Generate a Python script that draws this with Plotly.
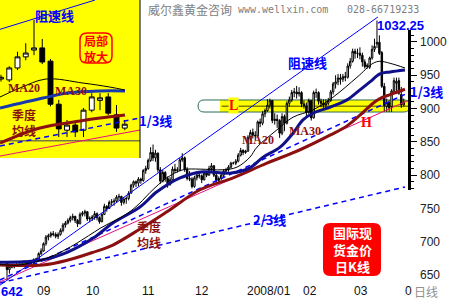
import plotly.graph_objects as go
import pandas as pd

# ---------------- data ----------------
dates = pd.bdate_range("2007-08-16", "2008-04-01")
date_labels = [d.strftime("%Y-%m-%d") for d in dates]

opens = ([668, 658, 663, 662, 665, 666, 664, 670, 668, 667, 666, 667] +
         [673, 674, 682, 686, 697, 707, 709, 712, 711, 708, 711, 717, 725, 728, 732, 736, 738, 732, 727, 741] +
         [743, 745, 734, 735, 737, 742, 736, 730, 741, 753, 750, 759, 760, 761, 767, 768, 759, 764, 765, 773, 785, 790, 788] +
         [794, 792, 807, 810, 822, 834, 826, 833, 808, 791, 804, 795, 786, 793, 809, 807, 808, 823, 826, 809, 795, 794] +
         [783, 796, 800, 799, 793, 803, 800, 810, 814, 800, 792, 795, 800, 806, 808, 812, 818, 818, 821, 830, 837] +
         [834, 836, 857, 864, 860, 859, 880, 878, 892, 897, 905, 912, 882, 884, 882, 863, 888, 878, 908, 913, 924, 925, 922] +
         [924, 907, 904, 894, 912, 886, 924, 924, 911, 908, 905, 908, 912, 925, 937, 940, 946, 944, 948, 947, 964] +
         [971, 986, 983, 983, 980, 970, 963, 962, 976, 989, 997, 999.5, 984, 933.5, 903, 909, 903, 926.5, 938, 942, 921, 905.5])
highs = ([670, 667, 667, 667, 668, 668, 671, 672, 670, 669, 670, 675] +
         [676, 684, 690, 699, 710, 712, 715, 716, 714, 714, 720, 728, 731, 735, 739, 742, 739, 734, 744, 746] +
         [748, 746, 738, 740, 746, 744, 738, 743, 757, 755, 762, 764, 765, 770, 772, 769, 767, 768, 776, 787, 792, 792, 797] +
         [796, 809, 814, 825, 842, 846, 838, 834, 812, 808, 806, 798, 797, 813, 817, 812, 826, 833, 828, 812, 806, 797] +
         [799, 803, 804, 801, 806, 806, 814, 818, 815, 802, 798, 803, 809, 811, 815, 820, 820, 824, 833, 841, 839] +
         [838, 860, 868, 870, 866, 882, 885, 896, 900, 914, 915, 913, 893, 891, 884, 893, 891, 911, 918, 928, 931, 934, 932] +
         [926, 912, 909, 915, 913, 927, 930, 926, 915, 914, 914, 916, 928, 940, 950, 952, 952, 952, 955, 968, 976] +
         [990, 990, 990, 992, 984, 974, 968, 978, 995, 1005, 1032.25, 1010, 986.5, 938.5, 915, 912.5, 929, 946.5, 946.5, 946.5, 932.5, 915])
lows = ([642, 652, 660, 660, 662, 662, 663, 667, 663, 664, 664, 666] +
        [671, 673, 680, 685, 694, 702, 706, 708, 705, 704, 709, 714, 721, 726, 729, 732, 728, 722, 726, 738] +
        [738, 731, 729, 731, 733, 732, 727, 729, 740, 745, 749, 754, 754, 758, 762, 754, 756, 757, 762, 772, 781, 782, 783] +
        [787, 790, 802, 808, 820, 821, 820, 804, 787, 789, 790, 781, 784, 791, 803, 804, 806, 820, 805, 792, 791, 780] +
        [781, 792, 795, 788, 792, 797, 799, 806, 797, 786, 788, 792, 797, 802, 805, 810, 816, 815, 819, 828, 830] +
        [832, 835, 853, 855, 852, 857, 872, 875, 887, 895, 900, 878, 876, 871, 856, 860, 866, 876, 903, 910, 917, 915, 918] +
        [902, 900, 888, 892, 882, 885, 916, 906, 902, 901, 900, 905, 910, 921, 930, 935, 936, 940, 941, 945, 960] +
        [969, 975, 976, 974, 963, 960, 960, 959.5, 973.5, 985, 991, 980.5, 931, 895, 895, 895, 895, 924, 926.5, 920.5, 901, 903])
closes = ([658, 663, 662, 665, 666, 664, 670, 668, 667, 666, 667, 673] +
          [674, 682, 686, 697, 707, 709, 712, 711, 708, 711, 717, 725, 728, 732, 736, 738, 732, 727, 741, 743] +
          [745, 734, 735, 737, 742, 736, 730, 741, 753, 750, 759, 760, 761, 767, 768, 759, 764, 765, 773, 785, 790, 788, 794] +
          [792, 807, 810, 822, 834, 826, 833, 808, 791, 804, 795, 786, 793, 809, 807, 808, 823, 826, 809, 795, 794, 783] +
          [796, 800, 799, 793, 803, 800, 810, 814, 800, 792, 795, 800, 806, 808, 812, 818, 818, 821, 830, 837, 834] +
          [836, 857, 864, 860, 859, 880, 878, 892, 897, 905, 912, 882, 884, 882, 863, 888, 878, 908, 913, 924, 925, 922, 924] +
          [907, 904, 894, 912, 886, 924, 924, 911, 908, 905, 908, 912, 925, 937, 940, 946, 944, 948, 947, 964, 971] +
          [986, 983, 983, 980, 970, 963, 965, 976, 989, 993.5, 999.5, 983, 933.5, 904.5, 909, 901, 926.5, 942, 941, 923, 905.5, 910])

n = min(len(dates), len(opens), len(highs), len(lows), len(closes))
x_pos = list(range(n))

# moving averages (trading-day position, price)
ma20_x = [-2.9, 5.3, 17.7, 28.8, 38.2, 49.3, 54.6, 58.8, 65.7, 72.3, 79.3, 88.7, 94.5, 99.8, 102.7, 110.9, 117.5, 125.7, 133.9, 143.8, 150.4, 153.2, 157.4, 163.5]
ma20_y = [666, 665, 677, 698, 720, 742, 758, 774, 796, 808, 809, 808, 812, 827, 842, 868, 887, 898, 917, 947, 968, 971, 968, 961]
ma30_x = [-2.9, 13.6, 24.7, 35.3, 43.5, 54.6, 61.6, 71.1, 80.5, 91.6, 99.8, 105.2, 112.2, 117.5, 121.6, 125.7, 132.7, 139.7, 145.0, 149.1, 153.2, 157.4, 163.5]
ma30_y = [669, 672, 684, 705, 728, 752, 775, 796, 805, 803, 811, 827, 842, 863, 883, 893, 902, 913, 928, 940, 952, 955, 958]
ma60_x = [-2.9, 14.8, 24.7, 35.3, 43.5, 54.6, 65.7, 79.3, 92.9, 106.8, 120.4, 132.7, 139.7, 145.0, 150.4, 153.2, 157.4, 163.5]
ma60_y = [665, 665, 672, 684, 695, 719, 745, 778, 796, 818, 838, 860, 874, 890, 908, 915, 921, 929]

# trend lines (fan from the 642 low)
resist_x, resist_y = [-2.9, 152.4], [634.6, 1037.6]
third_x, third_y = [-2.9, 163.5], [642.5, 921.4]
pink_x, pink_y = [-2.9, 165.0], [639.5, 912.4]
twothird_x, twothird_y = [-2.9, 163.5], [638.0, 782.2]
band_lo, band_hi = 894.8, 912.9
band_x0, band_fill_x0, band_x1 = 78.5, 87.5, 165.5
level_L = 903.5
level_L_x0 = 88.2

# inset (local zoom) lines
in_resist_x, in_resist_y = [147.88, 159.4], [1021.3, 1055.7]
in_ma20_x = [147.88, 150.3, 153.45, 157.94, 161.2, 163.03]
in_ma20_y = [941.9, 952.5, 963.0, 958.3, 953.6, 950.1]
in_ma30_x = [147.88, 153.09, 156.0, 160.0, 163.03]
in_ma30_y = [929.0, 940.7, 946.6, 949.0, 949.0]
in_ma60_x = [147.88, 152.73, 157.58, 160.0, 163.03]
in_ma60_y = [887.9, 905.6, 913.8, 917.3, 920.8]
in_third_x, in_third_y = [147.88, 164.85], [884.4, 917.3]
in_pink_x, in_pink_y = [147.88, 164.85], [872.7, 903.2]
in_level = 890.7

month_text = ["09", "10", "11", "12", "2008/01", "02", "03", "0"]
month_start = [i for i in range(1, n) if dates[i].month != dates[i - 1].month]

# ---------------- figure ----------------
PW, PH = 408.0, 300.0
def P(x, y):
    return x / PW, 1 - y / PH

BLUE = "#0000ff"
NAVY = "#10108a"
MAROON = "#8b1010"
PINK = "#e8107e"
CJK = "Noto Sans CJK SC"

fig = go.Figure()
fig.add_trace(go.Candlestick(
    x=x_pos, open=opens[:n], high=highs[:n], low=lows[:n], close=closes[:n],
    text=date_labels[:n], xaxis="x", yaxis="y",
    increasing=dict(line=dict(color="black", width=1), fillcolor="white"),
    decreasing=dict(line=dict(color="black", width=1), fillcolor="black"),
    whiskerwidth=0, showlegend=False))

def line(x, y, color, width, dash=None, xa="x", ya="y", shape="linear"):
    fig.add_trace(go.Scatter(x=x, y=y, mode="lines", xaxis=xa, yaxis=ya,
                             line=dict(color=color, width=width, dash=dash, shape=shape),
                             hoverinfo="skip", showlegend=False))

line(twothird_x, twothird_y, BLUE, 1.5, "5px,4px")
line(pink_x, pink_y, PINK, 1)
line(third_x, third_y, BLUE, 1.5, "5px,4px")
line(ma60_x, ma60_y, MAROON, 3, shape="spline")
line(ma30_x, ma30_y, NAVY, 3, shape="spline")
line(ma20_x, ma20_y, "black", 1, shape="spline")
line(resist_x, resist_y, BLUE, 1)

fig.add_trace(go.Scatter(x=[0], y=[900], xaxis="x", yaxis="y3", mode="markers",
                         marker=dict(opacity=0), hoverinfo="skip", showlegend=False))

# inset
fig.add_trace(go.Candlestick(
    x=x_pos, open=opens[:n], high=highs[:n], low=lows[:n], close=closes[:n],
    xaxis="x2", yaxis="y2",
    increasing=dict(line=dict(color="black", width=1), fillcolor="white"),
    decreasing=dict(line=dict(color="black", width=1), fillcolor="black"),
    whiskerwidth=0, showlegend=False))
line([147.88, 164.85], [in_level, in_level], "#7a7a40", 1.5, xa="x2", ya="y2")
line(in_pink_x, in_pink_y, PINK, 1, xa="x2", ya="y2")
line(in_third_x, in_third_y, BLUE, 1.5, "5px,4px", xa="x2", ya="y2")
line(in_ma60_x, in_ma60_y, MAROON, 3, xa="x2", ya="y2", shape="spline")
line(in_ma30_x, in_ma30_y, "#1838b0", 3, xa="x2", ya="y2", shape="spline")
line(in_ma20_x, in_ma20_y, "black", 1, xa="x2", ya="y2", shape="spline")
line(in_resist_x, in_resist_y, BLUE, 1, xa="x2", ya="y2")

# ---------------- shapes ----------------
shapes = []
rx, ry = 6 / 2.434, 6 / 0.6657
ymid = (band_lo + band_hi) / 2
yellow_path = (f"M {band_fill_x0},{band_hi} L {band_x1 - rx},{band_hi} Q {band_x1},{band_hi} {band_x1},{ymid} "
               f"Q {band_x1},{band_lo} {band_x1 - rx},{band_lo} L {band_fill_x0},{band_lo} Z")
outline_path = (f"M {band_x0 + rx},{band_hi} L {band_x1 - rx},{band_hi} Q {band_x1},{band_hi} {band_x1},{ymid} "
                f"Q {band_x1},{band_lo} {band_x1 - rx},{band_lo} L {band_x0 + rx},{band_lo} "
                f"Q {band_x0},{band_lo} {band_x0},{ymid} Q {band_x0},{band_hi} {band_x0 + rx},{band_hi} Z")
shapes.append(dict(type="path", path=yellow_path, xref="x", yref="y", fillcolor="#ffff00",
                   line=dict(width=0), layer="below"))
shapes.append(dict(type="path", path=outline_path, xref="x", yref="y", fillcolor="rgba(0,0,0,0)",
                   line=dict(color="#2e6b5a", width=1), layer="below"))
shapes.append(dict(type="line", x0=level_L_x0, x1=164.75, y0=level_L, y1=level_L, xref="x", yref="y",
                   line=dict(color="#808000", width=1.5), layer="below"))
# inset background and border
shapes.append(dict(type="rect", xref="x2 domain", yref="y2 domain", x0=0, x1=1, y0=0, y1=1,
                   fillcolor="#ffff00", line=dict(width=0), layer="below"))
shapes.append(dict(type="line", xref="x2 domain", yref="y2 domain", x0=1, x1=1, y0=0, y1=1,
                   line=dict(color="black", width=1)))

def rounded(x0, y0, x1, y1, r):
    a0, b0 = P(x0, y0); a1, b1 = P(x1, y1)
    rxp, ryp = r / PW, r / PH
    return (f"M {a0 + rxp},{b0} L {a1 - rxp},{b0} Q {a1},{b0} {a1},{b0 - ryp} L {a1},{b1 + ryp} "
            f"Q {a1},{b1} {a1 - rxp},{b1} L {a0 + rxp},{b1} Q {a0},{b1} {a0},{b1 + ryp} "
            f"L {a0},{b0 - ryp} Q {a0},{b0} {a0 + rxp},{b0} Z")

shapes.append(dict(type="path", path=rounded(323, 223, 381, 276, 7), xref="paper", yref="paper",
                   fillcolor="#ff0000", line=dict(width=0)))
shapes.append(dict(type="path", path=rounded(80, 33, 112, 63, 7), xref="paper", yref="paper",
                   fillcolor="rgba(0,0,0,0)", line=dict(color="#ff0000", width=1.5)))

# ---------------- annotations ----------------
anns = []
def ann(text, x, y, size, color, family=CJK, xanchor="center", bold=True, bg=None):
    a, b = P(x, y)
    t = f"<b>{text}</b>" if bold else text
    d = dict(text=t, x=a, y=b, xref="paper", yref="paper", showarrow=False,
             xanchor=xanchor, yanchor="middle", font=dict(family=family, size=size, color=color),
             borderpad=0)
    if bg:
        d["bgcolor"] = bg
    anns.append(d)

ann("威尔鑫黄金咨询", 147, 10, 12, "#808080", xanchor="left", bold=False)
ann("www.wellxin.com", 237, 10, 10, "#808080", family="DejaVu Sans Mono", xanchor="left", bold=False)
ann("028-66719233", 346, 10, 10, "#808080", family="DejaVu Sans Mono", xanchor="left", bold=False)
ann("1032.25", 400, 25, 13, BLUE, family="Liberation Sans")
ann("642", 12, 291, 13, BLUE, family="Liberation Sans")
ann("阻速线", 307, 62, 13, BLUE)
ann("1/3线", 426, 91, 13, BLUE)
ann("2/3线", 269, 219, 13, BLUE)
ann("MA20", 258, 140, 12, MAROON, family="Liberation Serif")
ann("MA30", 305, 131, 12, MAROON, family="Liberation Serif")
ann("季度<br>均线", 149, 234, 12, MAROON)
ann("L", 234, 105, 14, "#ff0000", family="Liberation Serif", bg="#ffff00")
ann("H", 366, 122, 14, "#ff0000", family="Liberation Serif")
ann("国际现<br>货金价<br>日K线", 352, 249.5, 13, "white")
# inset labels
ann("阻速线", 54, 15, 13, BLUE)
ann("局部<br>放大", 96, 48, 12, "#ff0000")
ann("MA20", 24, 88, 12, MAROON, family="Liberation Serif")
ann("MA30", 71, 91, 12, MAROON, family="Liberation Serif")
ann("季度<br>均线", 24, 123, 12, MAROON)
ann("1/3线", 155, 120, 13, BLUE)
# month labels
for txt, idx in zip(month_text, month_start):
    anns.append(dict(text=txt, x=idx, y=1 - 291 / PH, xref="x", yref="paper", showarrow=False,
                     xanchor="left", yanchor="middle", borderpad=0,
                     font=dict(family="Liberation Sans", size=12, color="#111")))
ann("日线", 413, 291, 12, "#909090", xanchor="left", bold=False)

fig.update_layout(
    width=450, height=300, autosize=False,
    margin=dict(l=0, r=42, t=0, b=0),
    paper_bgcolor="white", plot_bgcolor="rgba(0,0,0,0)",
    boxgap=0.15,
    showlegend=False,
    shapes=shapes, annotations=anns,
    xaxis=dict(domain=[0, 1], range=[-2.876, 164.75], visible=False, anchor="y",
               rangeslider=dict(visible=False)),
    yaxis=dict(domain=[0, 1], range=[612.4, 1063.1], side="right", anchor="x",
               tickmode="array", tickvals=[650, 700, 750, 800, 850, 900, 950, 1000],
               ticks="", showline=False, showgrid=False, zeroline=False,
               tickfont=dict(family="Liberation Sans", size=12, color="#222"),
               ticklabelstandoff=11),
    yaxis3=dict(domain=[110 / 300, 270 / 300], range=[777.7, 1018.0], anchor="x", side="right",
                showline=True, linecolor="black", linewidth=3,
                ticks="outside", ticklen=6, tickwidth=1, tickcolor="black",
                tickmode="linear", tick0=0, dtick=50, showticklabels=False,
                showgrid=False, zeroline=False,
                minor=dict(ticks="outside", ticklen=3, dtick=10, tickcolor="black", tickwidth=1, showgrid=False)),
    xaxis2=dict(domain=[0, 140 / PW], range=[147.879, 164.848], anchor="y2", visible=False,
                rangeslider=dict(visible=False)),
    yaxis2=dict(domain=[1 - 158 / PH, 1], range=[870.4, 1055.7], anchor="x2", visible=False),
)

fig.write_html("out.html")
